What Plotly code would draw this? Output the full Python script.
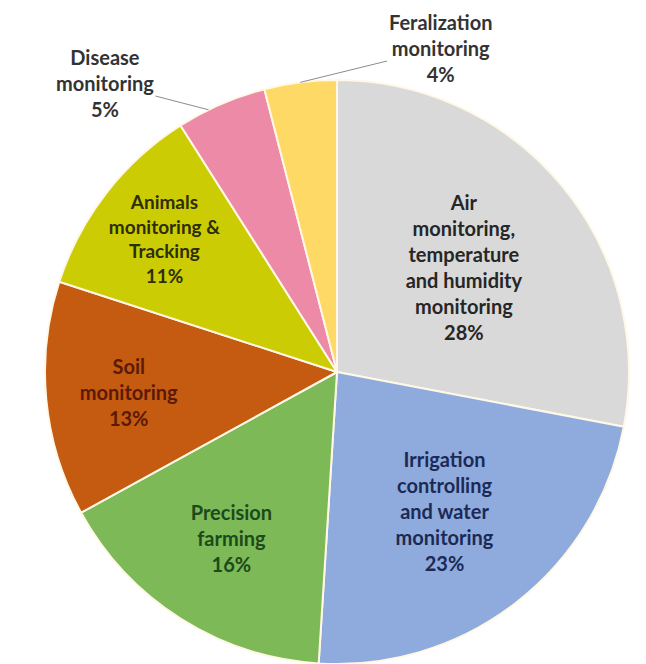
import math
import plotly.graph_objects as go

categories = [
    "Air monitoring, temperature and humidity monitoring",
    "Irrigation controlling and water monitoring",
    "Precision farming",
    "Soil monitoring",
    "Animals monitoring & Tracking",
    "Disease monitoring",
    "Feralization monitoring",
]
display_labels = [
    "Air<br>monitoring,<br>temperature<br>and humidity<br>monitoring",
    "Irrigation<br>controlling<br>and water<br>monitoring",
    "Precision<br>farming",
    "Soil<br>monitoring",
    "Animals<br>monitoring &<br>Tracking",
    "Disease<br>monitoring",
    "Feralization<br>monitoring",
]
values = [28, 23, 16, 13, 11, 5, 4]
colors = ["#D9D9D9", "#8FAADC", "#7DB957", "#C55A11", "#CCCC05", "#EC8AA8", "#FFD966"]
text_colors = ["#262626", "#1B2A55", "#1C4A1C", "#5A1A05", "#2E2E05", "#333333", "#333333"]
inside_slices = [True, True, True, True, True, False, False]

W, H = 646, 664
cx, cy, r = 337, 372, 292
FONT = "Lato"
FS = 20

templates = ["%{text}<br>%{percent:.0%}" if ins else "" for ins in inside_slices]

fig = go.Figure(
    go.Pie(
        labels=categories,
        values=values,
        text=display_labels,
        texttemplate=templates,
        textposition="inside",
        insidetextorientation="horizontal",
        textfont=dict(family=FONT, size=FS, color=text_colors, weight="bold"),
        marker=dict(colors=colors, line=dict(color="#FFF8E6", width=2)),
        sort=False,
        direction="clockwise",
        rotation=0,
        hole=0,
        showlegend=False,
        domain=dict(x=[(cx - r) / W, (cx + r) / W], y=[0, 2 * r / H]),
    )
)

# outside labels with leader lines for the two small slices
label_text_pos = {5: (105, 83), 6: (440, 48)}
head_frac = {5: 0.35, 6: 0.5}
total = sum(values)
cum = 0
for i, v in enumerate(values):
    start = cum
    cum += v
    if inside_slices[i]:
        continue
    frac = start + v * head_frac[i]
    ang = 2 * math.pi * frac / total
    hx = cx + r * math.sin(ang)
    hy = cy - r * math.cos(ang)
    tx, ty = label_text_pos[i]
    fig.add_annotation(
        x=hx / W, y=1 - hy / H, xref="paper", yref="paper",
        ax=tx - hx, ay=ty - hy, axref="pixel", ayref="pixel",
        text=f"{display_labels[i]}<br>{round(100 * v / total)}%",
        showarrow=True, arrowhead=0, arrowwidth=1, arrowcolor="#8C8C8C",
        font=dict(family=FONT, size=FS, color=text_colors[i], weight="bold"),
        align="center",
    )

fig.update_layout(
    width=W,
    height=H,
    margin=dict(l=0, r=0, t=0, b=0),
    paper_bgcolor="white",
    plot_bgcolor="white",
)
fig.write_html("out.html")
